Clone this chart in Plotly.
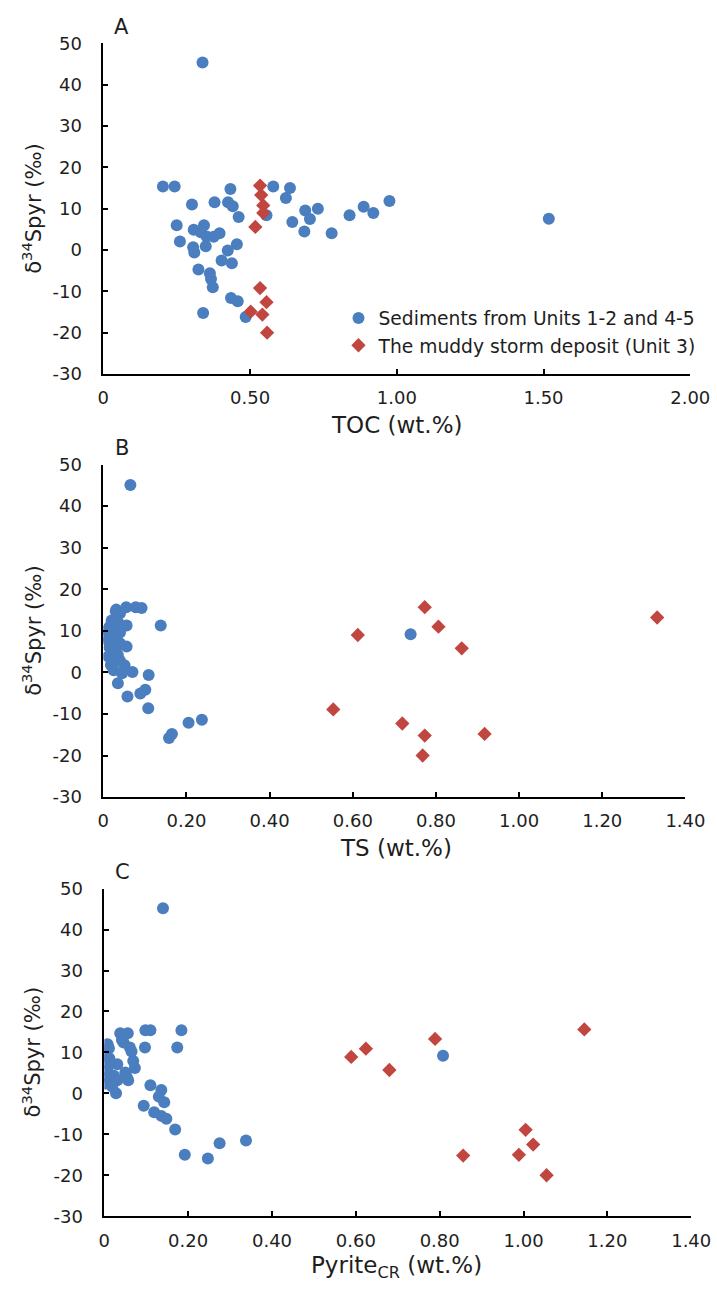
import plotly.graph_objects as go

# ---------------- data ----------------
# Panel A: TOC (wt.%) vs d34S_pyr
toc_blue = [0.338, 0.203, 0.243, 0.433, 0.302, 0.379, 0.425, 0.441, 0.461, 0.250,
            0.261, 0.308, 0.343, 0.332, 0.352, 0.376, 0.396, 0.306, 0.310, 0.349,
            0.424, 0.455, 0.403, 0.438, 0.324, 0.363, 0.367, 0.373, 0.435, 0.458,
            0.340, 0.485, 0.579, 0.636, 0.622, 0.556, 0.644, 0.688, 0.704, 0.731,
            0.685, 0.778, 0.839, 0.887, 0.920, 0.975, 1.518]
d34s_toc_blue = [45.4, 15.4, 15.4, 14.8, 11.0, 11.6, 11.6, 10.6, 8.0, 6.0,
                 2.1, 4.9, 6.0, 4.3, 3.3, 3.2, 4.1, 0.7, -0.6, 0.9,
                 -0.1, 1.4, -2.5, -3.2, -4.7, -5.6, -7.0, -9.0, -11.6, -12.4,
                 -15.2, -16.2, 15.4, 15.0, 12.6, 8.4, 6.8, 9.6, 7.5, 10.0,
                 4.5, 4.1, 8.4, 10.5, 9.0, 11.9, 7.6]
toc_red = [0.534, 0.538, 0.545, 0.545, 0.518, 0.534, 0.556, 0.542, 0.502, 0.558]
d34s_toc_red = [15.6, 13.3, 10.8, 9.0, 5.6, -9.2, -12.6, -15.6, -14.9, -20.0]

# Panel B: TS (wt.%) vs d34S_pyr
ts_blue = [0.065, 0.031, 0.055, 0.078, 0.092, 0.138, 0.056, 0.056, 0.070, 0.109,
           0.035, 0.058, 0.089, 0.101, 0.108, 0.205, 0.237, 0.158, 0.165, 0.739,
           0.030, 0.040, 0.020, 0.035, 0.015, 0.028, 0.045, 0.010, 0.022, 0.040,
           0.005, 0.018, 0.030, 0.012, 0.025, 0.040, 0.015, 0.030, 0.020, 0.035,
           0.012, 0.028, 0.040, 0.018, 0.051, 0.025, 0.045]
d34s_ts_blue = [45.1, 15.1, 15.7, 15.7, 15.5, 11.3, 11.3, 6.2, 0.1, -0.6,
                -2.6, -5.8, -5.1, -4.2, -8.6, -12.1, -11.4, -15.8, -14.8, 9.2,
                14.7, 14.2, 12.5, 12.2, 11.0, 11.2, 11.0, 10.2, 10.0, 9.6,
                8.8, 8.6, 8.2, 7.6, 7.2, 7.0, 6.0, 5.6, 4.6, 4.2,
                3.8, 3.0, 2.8, 1.8, 1.7, 0.5, -0.2]
ts_red = [0.612, 0.773, 0.806, 0.862, 1.332, 0.719, 0.773, 0.768, 0.917, 0.553]
d34s_ts_red = [9.0, 15.7, 11.0, 5.8, 13.2, -12.3, -15.2, -20.0, -14.8, -8.9]

# Panel C: Pyrite_CR (wt.%) vs d34S_pyr
pyr_blue = [0.140, 0.038, 0.056, 0.098, 0.110, 0.184, 0.097, 0.174, 0.008, 0.011,
            0.042, 0.046, 0.061, 0.065, 0.004, 0.012, 0.069, 0.073, 0.011, 0.031,
            0.008, 0.050, 0.023, 0.054, 0.008, 0.057, 0.031, 0.004, 0.019, 0.028,
            0.110, 0.136, 0.130, 0.143, 0.094, 0.119, 0.136, 0.148, 0.169, 0.192,
            0.247, 0.275, 0.338, 0.808]
d34s_pyr_blue = [45.2, 14.7, 14.7, 15.4, 15.4, 15.4, 11.2, 11.2, 12.0, 11.0,
                 13.0, 12.4, 11.2, 10.2, 9.5, 8.6, 7.9, 6.2, 7.1, 7.1,
                 5.5, 5.1, 4.3, 3.9, 3.9, 3.2, 3.2, 2.4, 1.6, 0.0,
                 2.0, 0.8, -0.8, -2.2, -3.0, -4.6, -5.5, -6.2, -8.8, -15.0,
                 -15.9, -12.2, -11.5, 9.2]
pyr_red = [0.589, 0.624, 0.680, 0.789, 1.145, 1.005, 1.023, 0.989, 0.856, 1.055]
d34s_pyr_red = [8.9, 10.9, 5.7, 13.3, 15.6, -8.9, -12.5, -15.0, -15.2, -20.0]

series_names = ["Sediments from Units 1-2 and 4-5", "The muddy storm deposit (Unit 3)"]
panel_letters = ["A", "B", "C"]
x_titles = ["TOC (wt.%)", "TS (wt.%)", "Pyrite<sub>CR</sub> (wt.%)"]
y_title = "δ<sup>34</sup>Spyr (‰)"
x_ticks_a = [0, 0.5, 1.0, 1.5, 2.0]
x_ticktext_a = ["0", "0.50", "1.00", "1.50", "2.00"]
x_ticks_bc = [0, 0.2, 0.4, 0.6, 0.8, 1.0, 1.2, 1.4]
x_ticktext_bc = ["0", "0.20", "0.40", "0.60", "0.80", "1.00", "1.20", "1.40"]
y_ticks = [-30, -20, -10, 0, 10, 20, 30, 40, 50]
y_ticktext = ["-30", "-20", "-10", "0", "10", "20", "30", "40", "50"]

# ---------------- layout helpers ----------------
W, H = 717, 1300
BLUE = "#4a7ebf"
RED = "#c0463f"
FONT = "DejaVu Sans, Arial, sans-serif"
TXT = "#1e1e1e"


def px(x):
    return x / W


def py(y):
    return 1 - y / H


# plot areas in pixels: (left, right, top, bottom)
areas = [(101, 710, 33, 369), (101, 705, 461, 799), (102, 711, 892, 1225)]
xranges = [[0, 2.0], [0, 1.4], [0, 1.4]]

fig = go.Figure()

data = [
    (toc_blue, d34s_toc_blue, toc_red, d34s_toc_red),
    (ts_blue, d34s_ts_blue, ts_red, d34s_ts_red),
    (pyr_blue, d34s_pyr_blue, pyr_red, d34s_pyr_red),
]

for i, (xb, yb, xr, yr) in enumerate(data):
    suffix = "" if i == 0 else str(i + 1)
    fig.add_trace(go.Scatter(
        x=xb, y=yb, mode="markers", name=series_names[0], legendgroup="g1",
        marker=dict(symbol="circle", size=12, color=BLUE),
        xaxis="x" + suffix, yaxis="y" + suffix, showlegend=(i == 0)))
    fig.add_trace(go.Scatter(
        x=xr, y=yr, mode="markers", name=series_names[1], legendgroup="g2",
        marker=dict(symbol="diamond", size=11, color=RED),
        xaxis="x" + suffix, yaxis="y" + suffix, showlegend=(i == 0)))

axis_common = dict(showline=True, linecolor="black", linewidth=1.5,
                   ticks="inside", ticklen=5, tickwidth=1.5, tickcolor="black",
                   showgrid=False, zeroline=False, ticklabeloverflow="allow",
                   tickfont=dict(family=FONT, size=18, color=TXT))

layout = dict(width=W, height=H, margin=dict(l=0, r=0, t=0, b=0),
              paper_bgcolor="white", plot_bgcolor="white",
              font=dict(family=FONT, color=TXT),
              showlegend=True,
              legend=dict(x=px(345), y=py(293), xanchor="left", yanchor="top",
                          bgcolor="rgba(0,0,0,0)", traceorder="grouped",
                          font=dict(family=FONT, size=18.7, color=TXT),
                          tracegroupgap=0, itemwidth=30))
annotations = []
for i, (l, r, t, b) in enumerate(areas):
    suffix = "" if i == 0 else str(i + 1)
    tv = x_ticks_a if i == 0 else x_ticks_bc
    tt = x_ticktext_a if i == 0 else x_ticktext_bc
    layout["xaxis" + suffix] = dict(axis_common, domain=[px(l), px(r)],
                                    range=xranges[i], tickvals=tv, ticktext=tt,
                                    anchor="y" + suffix, ticklabelstandoff=7)
    layout["yaxis" + suffix] = dict(axis_common, domain=[py(b), py(t)],
                                    range=[-30, 50], tickvals=y_ticks,
                                    ticktext=y_ticktext,
                                    anchor="x" + suffix, ticklabelstandoff=16)
    annotations.append(dict(text=y_title, x=px(27), y=py((t + b) / 2),
                            xref="paper", yref="paper", textangle=-90,
                            xanchor="center", yanchor="middle",
                            showarrow=False, font=dict(family=FONT, size=21, color=TXT)))
    annotations.append(dict(text=x_titles[i], x=px(405), y=py(b + 52),
                            xref="paper", yref="paper", showarrow=False,
                            xanchor="center", yanchor="middle",
                            font=dict(family=FONT, size=23, color=TXT)))
    annotations.append(dict(text=panel_letters[i], x=px(l + 19), y=py(t - 17),
                            xref="paper", yref="paper", showarrow=False,
                            xanchor="center", yanchor="middle",
                            font=dict(family=FONT, size=21, color=TXT)))
layout["annotations"] = annotations
fig.update_layout(**layout)

fig.write_html("out.html", config={"displayModeBar": False},
               post_script="document.body.style.margin='0';")
